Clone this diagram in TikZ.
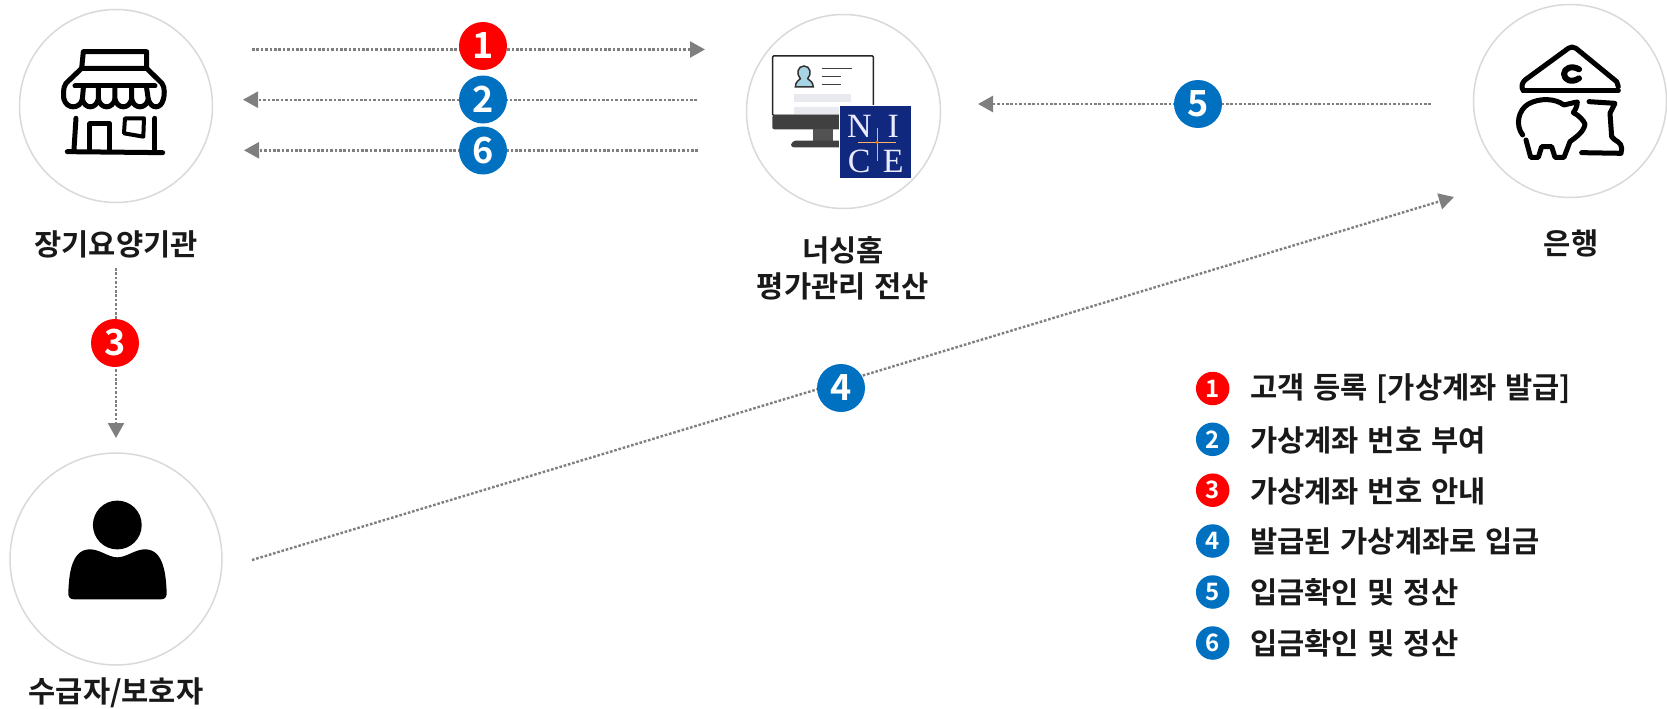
\documentclass[tikz,border=0pt]{standalone}
\usepackage{fontspec}
\usetikzlibrary{arrows.meta}
\newfontfamily\kr[BoldFont={Noto Sans CJK KR Bold},WordSpace=1.3]{Noto Sans CJK KR}
\newfontfamily\nicefont{Liberation Serif}
\definecolor{dotgray}{HTML}{7F7F7F}
\definecolor{ringgray}{HTML}{D9D9D9}
\definecolor{badgered}{HTML}{FF0000}
\definecolor{badgeblue}{HTML}{0070C0}
\definecolor{nicebg}{HTML}{10287E}
\definecolor{skin}{HTML}{A8D5E5}
\definecolor{palebar}{HTML}{E8EAF0}
\tikzset{
  ring/.style={circle,draw=ringgray,line width=1.5pt,inner sep=0pt,fill=white},
  link/.style={draw=dotgray,line width=2.4pt,dash pattern=on 2.6pt off 1.8pt,-{Triangle[length=15pt,width=16pt,fill=dotgray,sep=0pt]}},
  bigbadge/.style={circle,inner sep=0pt,minimum size=48pt,text=white,font=\kr\bfseries\fontsize{36}{36}\selectfont},
  smallbadge/.style={circle,inner sep=0pt,minimum size=33.5pt,text=white,font=\kr\bfseries\fontsize{24}{24}\selectfont},
  caption/.style={inner sep=0pt,align=center,font=\kr\bfseries\fontsize{29.6}{36}\selectfont,text=black!90},
  legendtext/.style={inner sep=0pt,anchor=west,font=\kr\bfseries\fontsize{29.6}{29.6}\selectfont,text=black!90},
  ink/.style={draw=black,line width=5pt,line cap=round,line join=round},
  nicechar/.style={inner sep=0pt,text=white!92!blue,font=\nicefont\fontsize{34}{34}\selectfont},
}
\begin{document}
\begin{tikzpicture}[x=1pt,y=-1pt]
\useasboundingbox (0,0) rectangle (1667,709);
% circles
\node[ring,minimum size=193pt] (shop) at (116,106) {};
\node[ring,minimum size=194pt] (nice) at (843.5,111.5) {};
\node[ring,minimum size=193pt] (bank) at (1570,101) {};
\node[ring,minimum size=212pt] (person) at (116,559) {};
% captions
\node[caption] (capshop) at (116,244) {장기요양기관};
\node[caption] (capnice) at (843,268.5) {너싱홈\\평가관리 전산};
\node[caption] (capbank) at (1571,243) {은행};
\node[caption] (capperson) at (116,693) {수급자/보호자};
% connector ends
\coordinate (a1s) at (252,49.5); \coordinate (a1e) at (705,49.5);
\coordinate (a2s) at (697,99.7); \coordinate (a2e) at (243,99.7);
\coordinate (a6s) at (698,150.3); \coordinate (a6e) at (244,150.3);
\coordinate (a5s) at (1431,104); \coordinate (a5e) at (978,104);
\coordinate (a4s) at (252,560); \coordinate (a4e) at (1454,197);
\coordinate (a3s) at (116,268); \coordinate (a3e) at (116,438);
\draw[link] (a1s) -- (a1e);
\draw[link] (a2s) -- (a2e);
\draw[link] (a6s) -- (a6e);
\draw[link] (a5s) -- (a5e);
\draw[link] (a4s) -- (a4e);
\draw[link] (a3s) -- (a3e);
% badges on connectors
\node[bigbadge,fill=badgered] (b1) at (483,46) {1};
\node[bigbadge,fill=badgeblue] (b2) at (483,99.5) {2};
\node[bigbadge,fill=badgeblue] (b6) at (483,150.5) {6};
\node[bigbadge,fill=badgeblue] (b5) at (1198,104) {5};
\node[bigbadge,fill=badgeblue] (b4) at (841,388) {4};
\node[bigbadge,fill=badgered] (b3) at (115,343) {3};
% legend
\node[smallbadge,fill=badgered] (l1) at (1212.7,388.5) {1};
\node[smallbadge,fill=badgeblue] (l2) at (1212.7,439.3) {2};
\node[smallbadge,fill=badgered] (l3) at (1212.7,490.2) {3};
\node[smallbadge,fill=badgeblue] (l4) at (1212.7,541) {4};
\node[smallbadge,fill=badgeblue] (l5) at (1212.7,592) {5};
\node[smallbadge,fill=badgeblue] (l6) at (1212.7,643) {6};
\node[legendtext] (t1) at (1250,389) {고객 등록 [가상계좌 발급]};
\node[legendtext] (t2) at (1250,440) {가상계좌 번호 부여};
\node[legendtext] (t3) at (1250,491) {가상계좌 번호 안내};
\node[legendtext] (t4) at (1250,541.5) {발급된 가상계좌로 입금};
\node[legendtext] (t5) at (1250,592.5) {입금확인 및 정산};
\node[legendtext] (t6) at (1250,643.5) {입금확인 및 정산};
% shop icon
\begin{scope}[shift={(0,0)},x=0.3333pt,y=-0.3333pt]
\draw[ink] (245,205) -- (250,155) -- (440,155) -- (440,205) -- cycle;
\draw[ink] (245,205) -- (198,250) .. controls (188,262) and (190,290) .. (192,298);
\draw[ink] (440,205) -- (486,250) .. controls (496,262) and (493,290) .. (490,298);
\draw[ink] (225,258) -- (465,258);
\draw[ink] (192,298) .. controls (200,328) and (240,328) .. (247,298)
  .. controls (255,328) and (287,328) .. (295,298)
  .. controls (303,328) and (337,328) .. (345,298)
  .. controls (353,328) and (387,328) .. (395,298)
  .. controls (403,328) and (437,328) .. (445,298)
  .. controls (453,328) and (483,328) .. (490,298);
\draw[ink] (247,298) -- (250,265) (295,298) -- (295,265) (345,298) -- (345,265) (395,298) -- (395,265) (445,298) -- (440,265);
\draw[ink] (228,355) -- (222,448);
\draw[ink] (270,448) -- (270,372) -- (330,372) -- (330,448);
\draw[ink,line width=4pt] (375,355) -- (432,355) -- (430,410) -- (372,400) -- cycle;
\draw[ink] (465,355) -- (465,448);
\draw[ink] (202,455) -- (488,458);
\end{scope}
% bank icon
\begin{scope}[shift={(1440,0)},x=0.3333pt,y=-0.3333pt]
\draw[ink] (250,272) .. controls (243,262) and (245,250) .. (255,240) -- (385,145) .. controls (392,140) and (400,140) .. (408,145) -- (530,245) -- (535,260);
\draw[ink] (250,272) -- (535,272);
\draw[ink,line width=6pt] (417,208) .. controls (395,195) and (372,205) .. (372,222) .. controls (372,240) and (395,250) .. (417,235);
\draw[ink] (248,405) .. controls (225,375) and (235,330) .. (265,312) .. controls (300,293) and (345,295) .. (372,315) .. controls (385,312) and (400,308) .. (412,306) .. controls (412,320) and (405,330) .. (400,338) .. controls (415,345) and (430,360) .. (435,372) .. controls (432,395) and (410,410) .. (390,425) -- (372,472) -- (345,472) -- (335,440) -- (305,440) -- (295,472) -- (272,472) -- (258,420);
\draw[ink] (447,305) -- (525,310) -- (510,340) -- (515,410) .. controls (525,425) and (545,425) .. (545,445) -- (543,460) -- (425,458);
\end{scope}
% person icon
\begin{scope}[shift={(0,450)},x=0.3333pt,y=-0.3333pt]
\fill[black] (352,225) circle[radius=24.4pt];
\fill[black] (222,448) .. controls (210,448) and (204,440) .. (205,428) .. controls (207,370) and (215,298) .. (270,298) .. controls (300,298) and (325,322) .. (352,322) .. controls (380,322) and (405,298) .. (435,298) .. controls (490,298) and (498,370) .. (500,428) .. controls (501,440) and (495,448) .. (483,448) -- cycle;
\end{scope}
% monitor + NICE icon
\begin{scope}[shift={(730,0)},x=0.3333pt,y=-0.3333pt]
\draw[line width=1.5pt,draw=black!85,fill=white,rounded corners=1pt] (128,168) rectangle (430,346);
\fill[black!75,rounded corners=2pt] (127,345) rectangle (431,388);
\fill[black!68] (250,388) rectangle (310,424);
\fill[black!75,rounded corners=3pt] (182,442) .. controls (184,428) and (192,422) .. (205,422) -- (335,422) -- (335,442) -- cycle;
\draw[line width=1.5pt,draw=black!80,fill=skin] (196,261) .. controls (196,245) and (208,240) .. (211,236) .. controls (198,222) and (203,198) .. (222,198) .. controls (241,198) and (246,222) .. (233,236) .. controls (236,240) and (250,245) .. (250,261) -- cycle;
\draw[line width=1.4pt,draw=black!75] (275,205) -- (365,205) (275,230) -- (333,230) (275,254) -- (333,254);
\fill[palebar] (193,282) rectangle (363,307);
\fill[palebar] (193,322) rectangle (330,341);
\draw[line width=1pt,draw=white,fill=nicebg] (327,318) rectangle (545,535);
\node[nicechar] (nN) at (388,378) {N};
\node[nicechar] (nI) at (490,378) {I};
\node[nicechar] (nC) at (388,484) {C};
\node[nicechar] (nE) at (490,484) {E};
\draw[orange!60!white,line width=0.7pt] (385,427) -- (497,427) (441,385) -- (441,482);
\fill[orange!90!red] (441,427) circle[radius=1.6pt];
\end{scope}
\end{tikzpicture}
\end{document}
